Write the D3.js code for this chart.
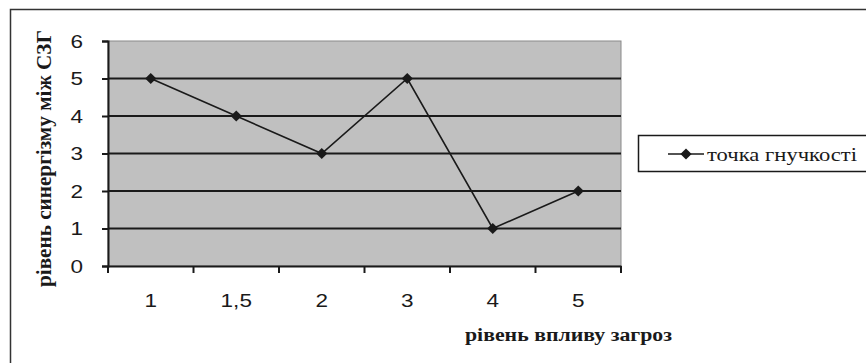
<!DOCTYPE html>
<html><head><meta charset="utf-8">
<script src="https://cdn.jsdelivr.net/npm/d3@7"></script>
<style>
body{margin:0;background:#fff}
.sans{font-family:'Liberation Sans',Arimo,Arial,sans-serif}
.serif{font-family:'Liberation Serif',Tinos,'Times New Roman','DejaVu Serif','Noto Serif',serif}
</style>
</head><body>
<svg id="c" width="866" height="363"></svg>
<script>
const categories = ["1", "1,5", "2", "3", "4", "5"];
const values = [5, 4, 3, 5, 1, 2];
const yTicks = [0, 1, 2, 3, 4, 5, 6];
const seriesName = "точка гнучкості";
const xTitle = "рівень впливу загроз";
const yTitle = "рівень синергізму між СЗГ";

const svg = d3.select("#c");
const L = 108, R = 621, T = 41, B = 266;
const ink = "#1a1a1a";
const SX = 1.25; // horizontal glyph stretch seen in the reference

function stretch(sel, target) {
  sel.each(function () {
    const w = this.getComputedTextLength();
    d3.select(this).attr("textLength", target != null ? target : w * SX)
      .attr("lengthAdjust", "spacingAndGlyphs");
  });
}

// outer frame
svg.append("rect").attr("x", 10.5).attr("y", 9.5).attr("width", 870).attr("height", 370)
  .attr("fill", "#fff").attr("stroke", "#333").attr("stroke-width", 1.5);

const x = d3.scaleBand().domain(categories).range([L, R]).padding(0);
const y = d3.scaleLinear().domain([0, 6]).range([B, T]);

// plot area
svg.append("rect").attr("x", L).attr("y", T).attr("width", R - L).attr("height", B - T)
  .attr("fill", "#c0c0c0").attr("stroke", "#8a8a8a").attr("stroke-width", 1);

// gridlines
svg.append("g").selectAll("line").data(yTicks.filter(d => d > 0 && d < 6)).join("line")
  .attr("x1", L).attr("x2", R).attr("y1", d => y(d)).attr("y2", d => y(d))
  .attr("stroke", ink).attr("stroke-width", 2);

// y axis
const yAxis = svg.append("g").attr("transform", `translate(${L},0)`)
  .call(d3.axisLeft(y).tickValues(yTicks).tickSize(6).tickPadding(19).tickFormat(d3.format("d")));
yAxis.attr("font-size", null).attr("font-family", null);
yAxis.select(".domain").attr("stroke", ink).attr("stroke-width", 2);
yAxis.selectAll(".tick line").attr("stroke", ink).attr("stroke-width", 2);
yAxis.selectAll("text").attr("class", "sans").style("font-size", "18px").attr("fill", ink)
  .attr("dy", "0.36em").call(stretch);

// x axis with ticks at band boundaries
const xAxis = svg.append("g").attr("transform", `translate(0,${B})`)
  .call(d3.axisBottom(x).tickSize(0).tickPadding(28));
xAxis.attr("font-size", null).attr("font-family", null);
xAxis.select(".domain").attr("stroke", ink).attr("stroke-width", 2);
xAxis.selectAll("text").attr("class", "sans").style("font-size", "18px").attr("fill", ink).call(stretch);
const bounds = categories.map(c => x(c)).concat([x(categories[categories.length - 1]) + x.bandwidth()]);
svg.append("g").selectAll("line").data(bounds).join("line")
  .attr("x1", d => d).attr("x2", d => d).attr("y1", B).attr("y2", B + 7)
  .attr("stroke", ink).attr("stroke-width", 2);

// line series
const pts = categories.map((c, i) => [x(c) + x.bandwidth() / 2, y(values[i])]);
svg.append("path").attr("d", d3.line()(pts)).attr("fill", "none")
  .attr("stroke", ink).attr("stroke-width", 1.6);
const diamond = d3.symbol().type(d3.symbolDiamond2).size(80);
svg.append("g").selectAll("path").data(pts).join("path")
  .attr("transform", d => `translate(${d[0]},${d[1]})`).attr("d", diamond).attr("fill", ink);

// axis titles
svg.append("text").attr("class", "serif").attr("x", 568.5).attr("y", 341).attr("text-anchor", "middle")
  .style("font-weight", "bold").style("font-size", "18px").attr("fill", ink).text(xTitle)
  .call(stretch, 207);
svg.append("text").attr("class", "serif").attr("transform", "translate(51,158.5) scale(1.2,1) rotate(-90)")
  .attr("text-anchor", "middle")
  .style("font-weight", "bold").style("font-size", "17px").attr("fill", ink).text(yTitle)
  .call(stretch, 257);

// legend
const lg = svg.append("g");
lg.append("rect").attr("x", 638.5).attr("y", 135.5).attr("width", 240).attr("height", 36)
  .attr("fill", "#fff").attr("stroke", ink).attr("stroke-width", 1.5);
lg.append("line").attr("x1", 668).attr("x2", 704).attr("y1", 154).attr("y2", 154)
  .attr("stroke", ink).attr("stroke-width", 1.6);
lg.append("path").attr("transform", "translate(686,154)").attr("d", diamond).attr("fill", ink);
lg.append("text").attr("class", "serif").attr("x", 707).attr("y", 161)
  .style("font-size", "19px").attr("fill", ink).text(seriesName)
  .call(stretch, 150);
</script>
</body></html>
